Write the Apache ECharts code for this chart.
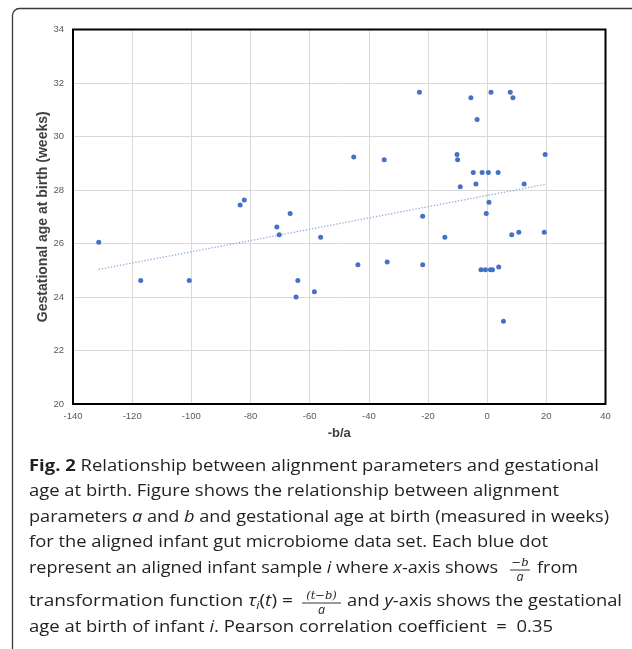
<!DOCTYPE html>
<html>
<head>
<meta charset="utf-8">
<script src="https://cdn.jsdelivr.net/npm/echarts@6/dist/echarts.min.js"></script>
<style>
html,body{margin:0;padding:0;background:#fff;}
#c{width:632px;height:649px;}
</style>
</head>
<body>
<div id="c"></div>
<script>
// ---- data ----
const xTicks = [-140, -120, -100, -80, -60, -40, -20, 0, 20, 40];
const yTicks = [20, 22, 24, 26, 28, 30, 32, 34];
const xValues = [-131.3, -117.1, -100.7, -83.5, -82.1, -71.1, -70.3, -66.6, -64.6, -64.0,
  -58.4, -56.3, -45.1, -43.7, -34.8, -33.8, -22.9, -21.8, -21.8, -14.3,
  -10.2, -10.0, -9.1, -5.5, -4.7, -3.8, -3.4, -2.1, -1.7, -0.6,
  -0.3, 0.4, 0.6, 1.1, 1.3, 1.8, 3.7, 3.9, 5.5, 7.8,
  8.3, 8.7, 10.7, 12.5, 19.3, 19.6];
const yValues = [26.05, 24.62, 24.62, 27.44, 27.63, 26.62, 26.33, 27.12, 24.0, 24.62,
  24.2, 26.23, 29.23, 25.21, 29.13, 25.31, 31.65, 27.02, 25.21, 26.23,
  29.33, 29.13, 28.12, 31.45, 28.65, 28.22, 30.64, 25.02, 28.65, 25.02,
  27.12, 28.65, 27.54, 25.02, 31.65, 25.02, 28.65, 25.12, 23.09, 31.65,
  26.33, 31.45, 26.42, 28.22, 26.42, 29.33];
const trendX = [-131.3, 19.6];
const trendY = [25.03, 28.21];
const xName = '-b/a';
const yName = 'Gestational age at birth (weeks)';

// ---- caption ----
const CAP_FONT = '"Open Sans", "Noto Sans", sans-serif';
const CAP_SIZE = 16.5;
const CAP_COLOR = '#231f20';
const capStyles = {
  n: {fontSize: CAP_SIZE, fontStyle: 'normal', fontWeight: 'normal'},
  b: {fontSize: CAP_SIZE, fontStyle: 'normal', fontWeight: 'bold'},
  i: {fontSize: CAP_SIZE, fontStyle: 'italic', fontWeight: 'normal'},
  s: {fontSize: 11, fontStyle: 'italic', fontWeight: 'normal'}
};
// segments: runs, left x, right x, y (middle)
const capSegments = [
  {runs: [['b', 'Fig. 2'], ['n', ' Relationship between alignment parameters and gestational']], x0: 29, x1: 599, y: 466},
  {runs: [['n', 'age at birth. Figure shows the relationship between alignment']], x0: 29, x1: 559, y: 491.5},
  {runs: [['n', 'parameters '], ['i', 'a'], ['n', ' and '], ['i', 'b'], ['n', ' and gestational age at birth (measured in weeks)']], x0: 29, x1: 609, y: 517},
  {runs: [['n', 'for the aligned infant gut microbiome data set. Each blue dot']], x0: 29, x1: 548, y: 542.5},
  {runs: [['n', 'represent an aligned infant sample '], ['i', 'i'], ['n', ' where '], ['i', 'x'], ['n', '-axis shows']], x0: 29, x1: 498, y: 568.5},
  {runs: [['n', 'from']], x0: 537, x1: 578, y: 568.5},
  {runs: [['n', 'transformation function '], ['i', 'τ'], ['s', 'i'], ['n', '('], ['i', 't'], ['n', ') =']], x0: 29, x1: 293, y: 601},
  {runs: [['n', 'and '], ['i', 'y'], ['n', '-axis shows the gestational']], x0: 347, x1: 622, y: 601},
  {runs: [['n', 'age at birth of infant '], ['i', 'i'], ['n', '. Pearson correlation coefficient  =  0.35']], x0: 29, x1: 553, y: 627}
];
const fractions = [
  {num: '−b', den: 'a', cx: 520, x0: 510, x1: 530, y: 570},
  {num: '(t−b)', den: 'a', cx: 321.5, x0: 302, x1: 341, y: 603}
];

const mctx = document.createElement('canvas').getContext('2d');
function runWidth(st, t) {
  const s = capStyles[st];
  mctx.font = s.fontStyle + ' ' + s.fontWeight + ' ' + s.fontSize + 'px ' + CAP_FONT;
  return mctx.measureText(t).width;
}
const rich = {};
Object.keys(capStyles).forEach(k => {
  rich[k] = Object.assign({fontFamily: CAP_FONT, fill: CAP_COLOR}, capStyles[k]);
});
rich.s.verticalAlign = 'bottom';
rich.s.padding = [9, 0, 0, 0];

const graphics = [];
// outer figure frame
graphics.push({
  type: 'rect', silent: true,
  shape: {x: 12.5, y: 8.5, width: 800, height: 800, r: 7},
  style: {fill: 'none', stroke: '#3a3a3a', lineWidth: 1.3}
});
capSegments.forEach(seg => {
  let w = 0;
  seg.runs.forEach(r => { w += runWidth(r[0], r[1]); });
  const sx = (seg.x1 - seg.x0) / w;
  graphics.push({
    type: 'text', silent: true, x: seg.x0, y: seg.y, scaleX: sx,
    style: {
      text: seg.runs.map(r => '{' + r[0] + '|' + r[1] + '}').join(''),
      rich: rich, fill: CAP_COLOR, align: 'left', verticalAlign: 'middle',
      fontFamily: CAP_FONT, fontSize: CAP_SIZE
    }
  });
});
fractions.forEach(f => {
  graphics.push({type: 'line', silent: true, shape: {x1: f.x0, y1: f.y, x2: f.x1, y2: f.y}, style: {stroke: CAP_COLOR, lineWidth: 0.9}});
  graphics.push({type: 'text', silent: true, x: f.cx, y: f.y - 1, style: {
    text: f.num, fontFamily: '"DejaVu Serif", serif', fontStyle: 'italic', fontSize: 11.5, fill: CAP_COLOR, align: 'center', verticalAlign: 'bottom'}});
  graphics.push({type: 'text', silent: true, x: f.cx, y: f.y + 1, style: {
    text: f.den, fontFamily: CAP_FONT, fontStyle: 'italic', fontSize: 12.5, fill: CAP_COLOR, align: 'center', verticalAlign: 'top'}});
});

const chart = echarts.init(document.getElementById('c'), null, {renderer: 'canvas'});
const AX_FONT = '"Liberation Sans", Arial, sans-serif';
chart.setOption({
  animation: false,
  backgroundColor: '#fff',
  grid: {left: 73, top: 29.5, right: 26.5, bottom: 245, show: true, borderColor: '#000', borderWidth: 2, backgroundColor: 'transparent', z: 3},
  xAxis: {
    type: 'value', min: xTicks[0], max: xTicks[xTicks.length - 1], interval: xTicks[1] - xTicks[0],
    name: xName, nameLocation: 'middle', nameGap: 23, nameMoveOverlap: false,
    nameTextStyle: {fontFamily: AX_FONT, fontWeight: 'bold', fontSize: 13, color: '#404040', verticalAlign: 'top'},
    axisLine: {show: false}, axisTick: {show: false},
    axisLabel: {fontFamily: AX_FONT, fontSize: 9.5, color: '#595959', margin: 7},
    splitLine: {show: true, lineStyle: {color: '#d9d9d9', width: 1}}
  },
  yAxis: {
    type: 'value', min: yTicks[0], max: yTicks[yTicks.length - 1], interval: yTicks[1] - yTicks[0],
    name: yName, nameLocation: 'middle', nameGap: 23, nameMoveOverlap: false,
    nameTextStyle: {fontFamily: AX_FONT, fontWeight: 'bold', fontSize: 14, color: '#404040'},
    axisLine: {show: false}, axisTick: {show: false},
    axisLabel: {fontFamily: AX_FONT, fontSize: 9.5, color: '#595959', margin: 9},
    splitLine: {show: true, lineStyle: {color: '#d9d9d9', width: 1}}
  },
  series: [
    {
      type: 'line', data: trendX.map((x, i) => [x, trendY[i]]), symbol: 'none',
      lineStyle: {color: '#8eaadb', width: 1.3, type: [1.3, 1.8]}, z: 2, silent: true
    },
    {
      type: 'scatter', data: xValues.map((x, i) => [x, yValues[i]]),
      symbol: 'circle', symbolSize: 5, itemStyle: {color: '#4472c4', opacity: 1}, z: 4
    }
  ],
  graphic: graphics
});
</script>
</body>
</html>
